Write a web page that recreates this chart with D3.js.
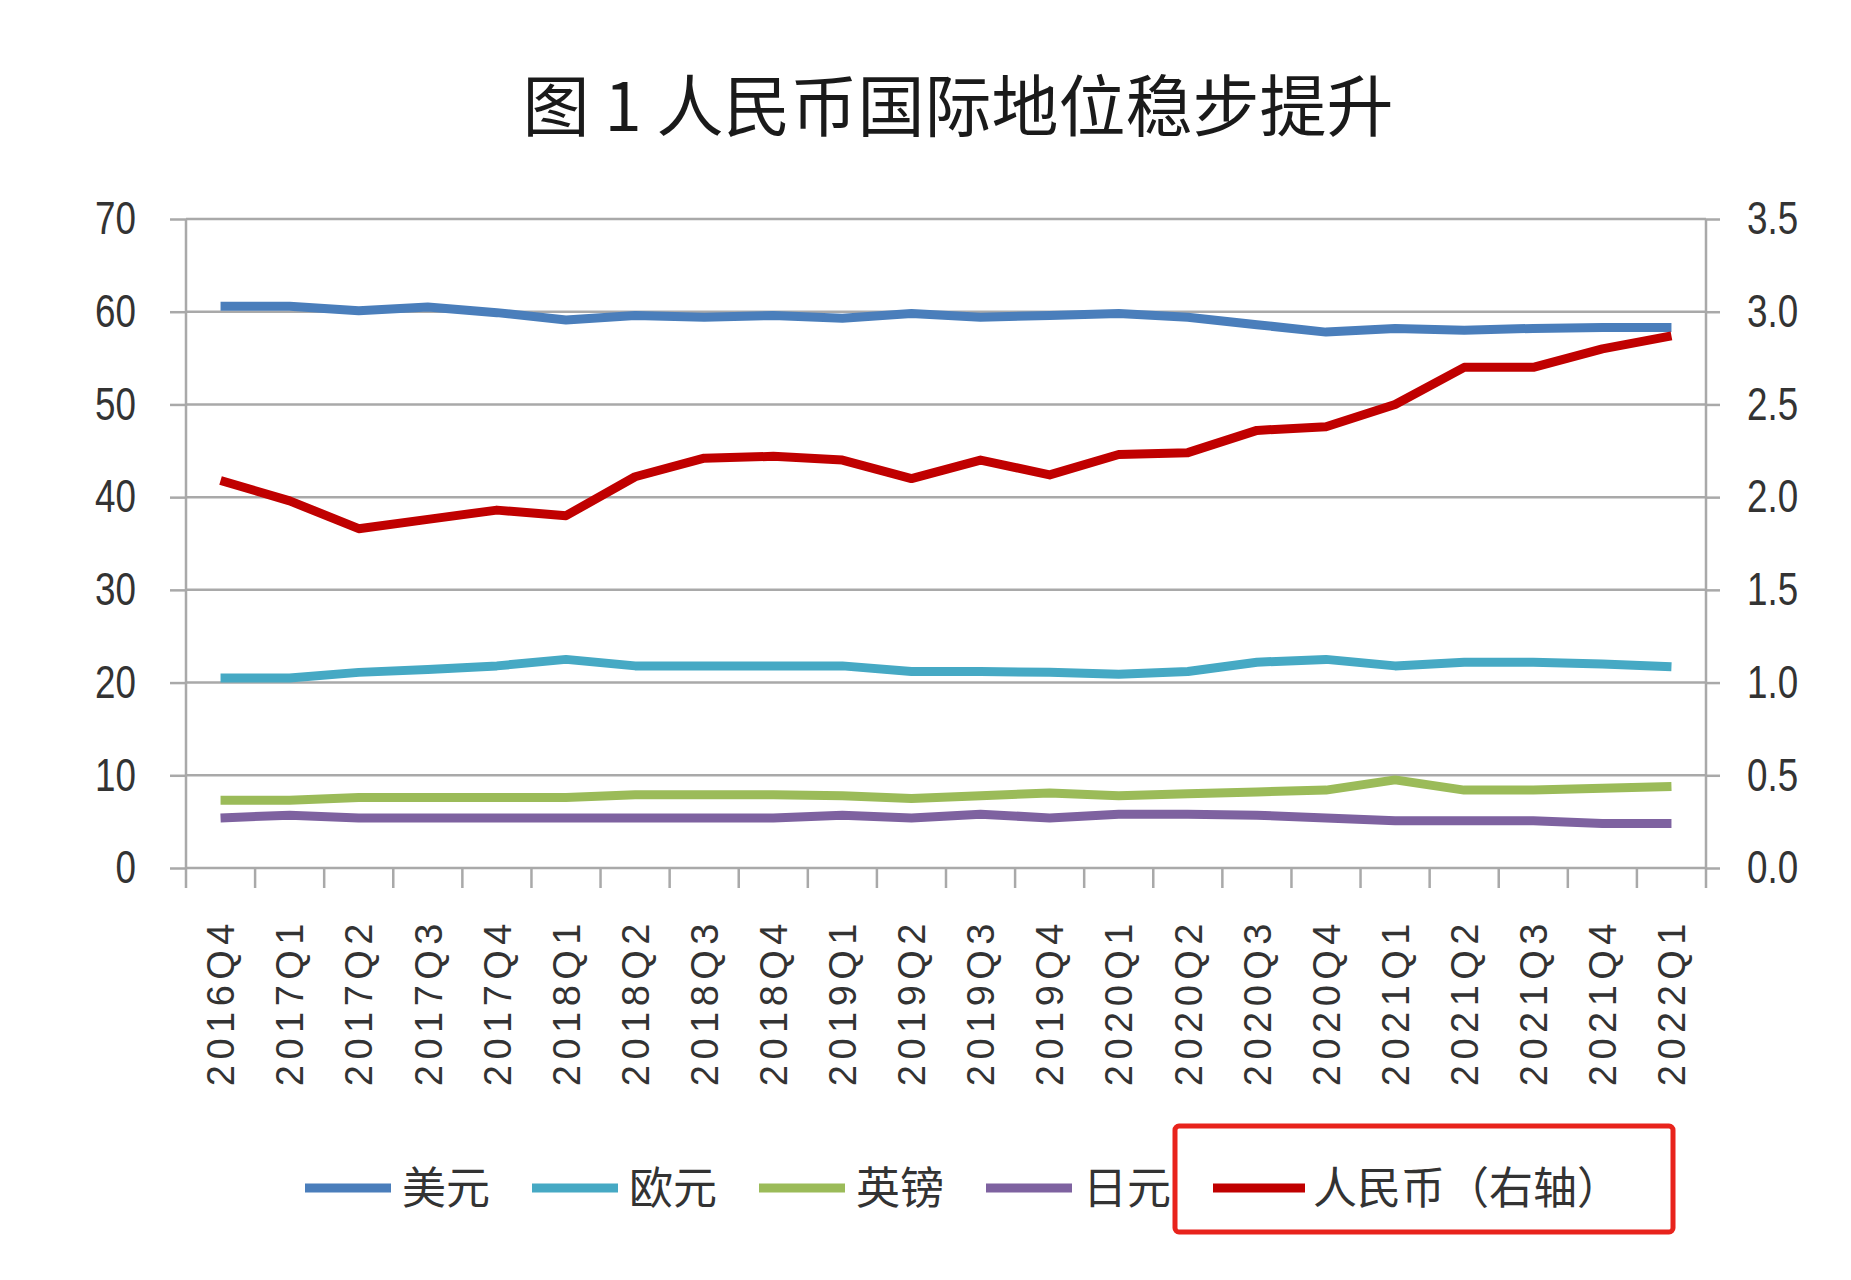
<!DOCTYPE html>
<html>
<head>
<meta charset="utf-8">
<script src="https://cdn.jsdelivr.net/npm/d3@7/dist/d3.min.js"></script>
<style>
  html, body { margin: 0; padding: 0; background: #fff; }
</style>
</head>
<body>
<div id="container"></div>
<script>
const width = 1851;
const height = 1280;

const quarters = ["2016Q4", "2017Q1", "2017Q2", "2017Q3", "2017Q4", "2018Q1", "2018Q2", "2018Q3",
  "2018Q4", "2019Q1", "2019Q2", "2019Q3", "2019Q4", "2020Q1", "2020Q2", "2020Q3", "2020Q4",
  "2021Q1", "2021Q2", "2021Q3", "2021Q4", "2022Q1"];

// left axis series (%)
const usd = [60.6, 60.6, 60.1, 60.5, 59.9, 59.1, 59.6, 59.4, 59.6, 59.3, 59.8, 59.4, 59.6, 59.8, 59.4, 58.6, 57.8, 58.2, 58.0, 58.2, 58.3, 58.3];
const eur = [20.5, 20.5, 21.1, 21.4, 21.8, 22.5, 21.8, 21.8, 21.8, 21.8, 21.2, 21.2, 21.1, 20.9, 21.2, 22.2, 22.5, 21.8, 22.2, 22.2, 22.0, 21.7];
const gbp = [7.3, 7.3, 7.6, 7.6, 7.6, 7.6, 7.9, 7.9, 7.9, 7.8, 7.5, 7.8, 8.1, 7.8, 8.0, 8.2, 8.4, 9.5, 8.4, 8.4, 8.6, 8.8];
const jpy = [5.4, 5.7, 5.4, 5.4, 5.4, 5.4, 5.4, 5.4, 5.4, 5.7, 5.4, 5.8, 5.4, 5.8, 5.8, 5.7, 5.4, 5.1, 5.1, 5.1, 4.8, 4.8];
// right axis series (%)
const cny = [2.09, 1.98, 1.83, 1.88, 1.93, 1.90, 2.11, 2.21, 2.22, 2.20, 2.10, 2.20, 2.12, 2.23, 2.24, 2.36, 2.38, 2.50, 2.70, 2.70, 2.80, 2.87];

const leftTicks = [0, 10, 20, 30, 40, 50, 60, 70];
const rightTicks = [0, 0.5, 1.0, 1.5, 2.0, 2.5, 3.0, 3.5];

const seriesNames = ["美元", "欧元", "英镑", "日元", "人民币（右轴）"];
const seriesColors = ["#4a7ebb", "#46a9c4", "#9bbb59", "#7e62a0", "#c00000"];

const title = "图 1 人民币国际地位稳步提升";

const plotLeft = 186;
const plotRight = 1706;
const plotTop = 219;
const plotBottom = 868;

const gridColor = "#a9a9a9";
const textColor = "#333";
const numFont = "'Liberation Sans', Arial, sans-serif";
const cjkFont = "'Noto Sans CJK SC', 'Noto Sans', sans-serif";
const numSqueeze = 0.8; // the tick numbers are drawn narrow in the original

const svg = d3.select("#container")
  .append("svg")
  .attr("width", width)
  .attr("height", height);

svg.append("rect").attr("width", width).attr("height", height).attr("fill", "#fff");

// title
svg.append("text")
  .attr("x", 958)
  .attr("y", 131)
  .attr("text-anchor", "middle")
  .attr("font-family", cjkFont)
  .attr("font-size", 67)
  .attr("font-weight", 400)
  .attr("fill", "#1a1a1a")
  .text(title);

const x = d3.scaleBand()
  .domain(quarters)
  .range([plotLeft, plotRight]);

const yLeft = d3.scaleLinear()
  .domain([0, 70])
  .range([plotBottom, plotTop]);

const yRight = d3.scaleLinear()
  .domain([0, 3.5])
  .range([plotBottom, plotTop]);

// gridlines
svg.append("g")
  .selectAll("line")
  .data(leftTicks)
  .join("line")
  .attr("x1", plotLeft)
  .attr("x2", plotRight)
  .attr("y1", d => yLeft(d))
  .attr("y2", d => yLeft(d))
  .attr("stroke", gridColor)
  .attr("stroke-width", 2.5);

// left axis
const gLeft = svg.append("g")
  .attr("transform", `translate(${plotLeft},0)`)
  .call(d3.axisLeft(yLeft).tickValues(leftTicks).tickSize(16).tickPadding(34));

// right axis
const gRight = svg.append("g")
  .attr("transform", `translate(${plotRight},0)`)
  .call(d3.axisRight(yRight).tickValues(rightTicks).tickFormat(d3.format(".1f")).tickSize(14).tickPadding(27));

[gLeft, gRight].forEach(g => {
  g.select(".domain").remove();
  g.selectAll(".tick line").attr("stroke", gridColor).attr("stroke-width", 2.5);
  g.selectAll(".tick text")
    .attr("x", function () { return +d3.select(this).attr("x") / numSqueeze; })
    .attr("transform", `scale(${numSqueeze},1)`)
    .attr("font-family", numFont)
    .attr("font-size", 46)
    .attr("fill", textColor);
});

// vertical axis lines, running down to the tick ends
svg.append("g")
  .selectAll("line")
  .data([plotLeft, plotRight])
  .join("line")
  .attr("x1", d => d)
  .attr("x2", d => d)
  .attr("y1", plotTop)
  .attr("y2", plotBottom + 20)
  .attr("stroke", gridColor)
  .attr("stroke-width", 2.5);

// bottom axis: labels at band centres, ticks at band edges
const gBottom = svg.append("g")
  .attr("transform", `translate(0,${plotBottom})`)
  .call(d3.axisBottom(x).tickSize(0));

gBottom.select(".domain").remove();
gBottom.selectAll(".tick text")
  .attr("transform", "rotate(-90)")
  .attr("text-anchor", "end")
  .attr("x", -50)
  .attr("y", 0)
  .attr("dy", "0.36em")
  .attr("font-family", "'Liberation Sans', Arial, sans-serif")
  .attr("font-size", 38)
  .attr("letter-spacing", 5.5)
  .attr("fill", textColor);

gBottom.append("g")
  .selectAll("line")
  .data(quarters.slice(1))
  .join("line")
  .attr("x1", d => x(d))
  .attr("x2", d => x(d))
  .attr("y1", 0)
  .attr("y2", 20)
  .attr("stroke", gridColor)
  .attr("stroke-width", 2.5);

// lines
const lineLeft = d3.line()
  .x((d, i) => x(quarters[i]) + x.bandwidth() / 2)
  .y(d => yLeft(d));

const lineRight = d3.line()
  .x((d, i) => x(quarters[i]) + x.bandwidth() / 2)
  .y(d => yRight(d));

const series = [
  { name: seriesNames[1], values: eur, color: seriesColors[1], line: lineLeft },
  { name: seriesNames[2], values: gbp, color: seriesColors[2], line: lineLeft },
  { name: seriesNames[3], values: jpy, color: seriesColors[3], line: lineLeft },
  { name: seriesNames[0], values: usd, color: seriesColors[0], line: lineLeft },
  { name: seriesNames[4], values: cny, color: seriesColors[4], line: lineRight }
];

svg.append("g")
  .selectAll("path")
  .data(series)
  .join("path")
  .attr("d", d => d.line(d.values))
  .attr("fill", "none")
  .attr("stroke", d => d.color)
  .attr("stroke-width", 9)
  .attr("stroke-linejoin", "round")
  .attr("stroke-linecap", "butt");

// legend
const legendX = 305;
const legendStep = 227;
const legendY = 1188;

const legend = svg.append("g")
  .selectAll("g")
  .data(seriesNames)
  .join("g")
  .attr("transform", (d, i) => `translate(${legendX + i * legendStep},${legendY})`);

legend.append("line")
  .attr("x1", 0)
  .attr("x2", (d, i) => i === 4 ? 92 : 86)
  .attr("stroke", (d, i) => seriesColors[i])
  .attr("stroke-width", 9);

legend.append("text")
  .attr("x", (d, i) => i === 4 ? 100 : 97)
  .attr("dy", "0.36em")
  .attr("font-family", cjkFont)
  .attr("font-size", 44)
  .attr("fill", textColor)
  .text(d => d);

// red highlight box around the renminbi legend entry
svg.append("rect")
  .attr("x", 1175)
  .attr("y", 1126)
  .attr("width", 498)
  .attr("height", 106)
  .attr("rx", 4)
  .attr("fill", "none")
  .attr("stroke", "#e8231c")
  .attr("stroke-width", 5);
</script>
</body>
</html>
